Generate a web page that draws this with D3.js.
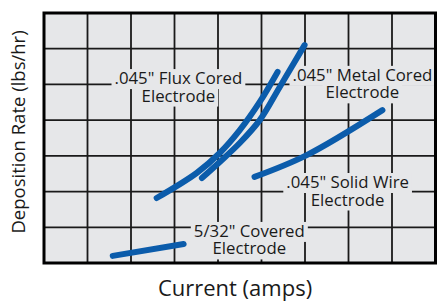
<!DOCTYPE html>
<html>
<head>
<meta charset="utf-8">
<script src="https://cdn.jsdelivr.net/npm/d3@7"></script>
<style>
  body { margin: 0; background: #fff; }
  svg { display: block; }
</style>
</head>
<body>
<svg id="chart" width="437" height="301"></svg>
<script>
// grid is 9 columns x 7 rows, values read in grid units
var xCells = 9;
var yCells = 7;

var fluxCored = [[2.59, 1.82], [3.51, 2.52], [4.04, 3.08], [4.50, 3.72], [4.96, 4.51], [5.37, 5.35]];
var metalCored = [[3.63, 2.38], [4.04, 2.83], [4.50, 3.36], [4.96, 4.00], [5.42, 4.93], [5.99, 6.10]];
var solidWire = [[4.84, 2.41], [6.04, 3.02], [7.78, 4.28]];
var covered = [[1.58, 0.20], [3.21, 0.53]];

var seriesNames = ['.045" Flux Cored', '.045" Metal Cored', '.045" Solid Wire', '5/32" Covered'];
var seriesValues = [fluxCored, metalCored, solidWire, covered];

// label anchors (centre of first line), grid units
var labelAnchors = [[3.09, 5.01], [7.32, 5.10], [6.98, 2.10], [4.72, 0.73]];

var xTitle = 'Current (amps)';
var yTitle = 'Deposition Rate (lbs/hr)';

var bg = '#e6e7e9';
var blue = '#0b5cab';

var svg = d3.select('#chart');
var pLeft = 44, pRight = 435.5, pTop = 13, pBottom = 263;

var x = d3.scaleLinear().domain([0, xCells]).range([pLeft, pRight]);
var y = d3.scaleLinear().domain([0, yCells]).range([pBottom, pTop]);

svg.append('rect')
    .attr('x', pLeft).attr('y', pTop)
    .attr('width', pRight - pLeft).attr('height', pBottom - pTop)
    .attr('fill', bg);

// grid lines
var grid = svg.append('g');
grid.selectAll('.vline').data(d3.range(1, xCells)).enter().append('line')
    .attr('x1', function(d) { return x(d); })
    .attr('x2', function(d) { return x(d); })
    .attr('y1', pTop).attr('y2', pBottom)
    .attr('stroke', '#1a1a1a').attr('stroke-width', 1.8);
grid.selectAll('.hline').data(d3.range(1, yCells)).enter().append('line')
    .attr('y1', function(d) { return y(d); })
    .attr('y2', function(d) { return y(d); })
    .attr('x1', pLeft).attr('x2', pRight)
    .attr('stroke', '#1a1a1a').attr('stroke-width', 1.8);

// labels with a patch behind each line so the grid is cut
var rectLayer = svg.append('g');
var curveLayer = svg.append('g');
var textLayer = svg.append('g');

seriesNames.forEach(function(name, i) {
    var a = labelAnchors[i];
    var lines = [name, 'Electrode'];
    lines.forEach(function(txt, j) {
        var t = textLayer.append('text')
            .attr('x', x(a[0]))
            .attr('y', y(a[1]) + j * 17.5)
            .attr('text-anchor', 'middle')
            .attr('font-family', 'Open Sans, sans-serif')
            .attr('font-size', 16.8)
            .attr('fill', '#1a1a1a')
            .text(txt);
        var b = t.node().getBBox();
        rectLayer.append('rect')
            .attr('x', b.x - 3).attr('y', b.y + 3)
            .attr('width', b.width + 6).attr('height', b.height - 3)
            .attr('fill', bg);
    });
});

// curves
var line = d3.line()
    .x(function(d) { return x(d[0]); })
    .y(function(d) { return y(d[1]); })
    .curve(d3.curveCatmullRom);

curveLayer.selectAll('path').data(seriesValues).enter().append('path')
    .attr('d', line)
    .attr('fill', 'none')
    .attr('stroke', blue)
    .attr('stroke-width', 6)
    .attr('stroke-linecap', 'round');

// frame
svg.append('rect')
    .attr('x', pLeft).attr('y', pTop)
    .attr('width', pRight - pLeft).attr('height', pBottom - pTop)
    .attr('fill', 'none')
    .attr('stroke', '#000').attr('stroke-width', 3);

svg.append('text')
    .attr('x', 235).attr('y', 296)
    .attr('text-anchor', 'middle')
    .attr('font-family', 'Open Sans, sans-serif')
    .attr('font-size', 22)
    .attr('fill', '#1a1a1a')
    .text(xTitle);

svg.append('text')
    .attr('transform', 'translate(25,132) rotate(-90)')
    .attr('text-anchor', 'middle')
    .attr('font-family', 'Open Sans, sans-serif')
    .attr('font-size', 18.5)
    .attr('fill', '#1a1a1a')
    .text(yTitle);
</script>
</body>
</html>
